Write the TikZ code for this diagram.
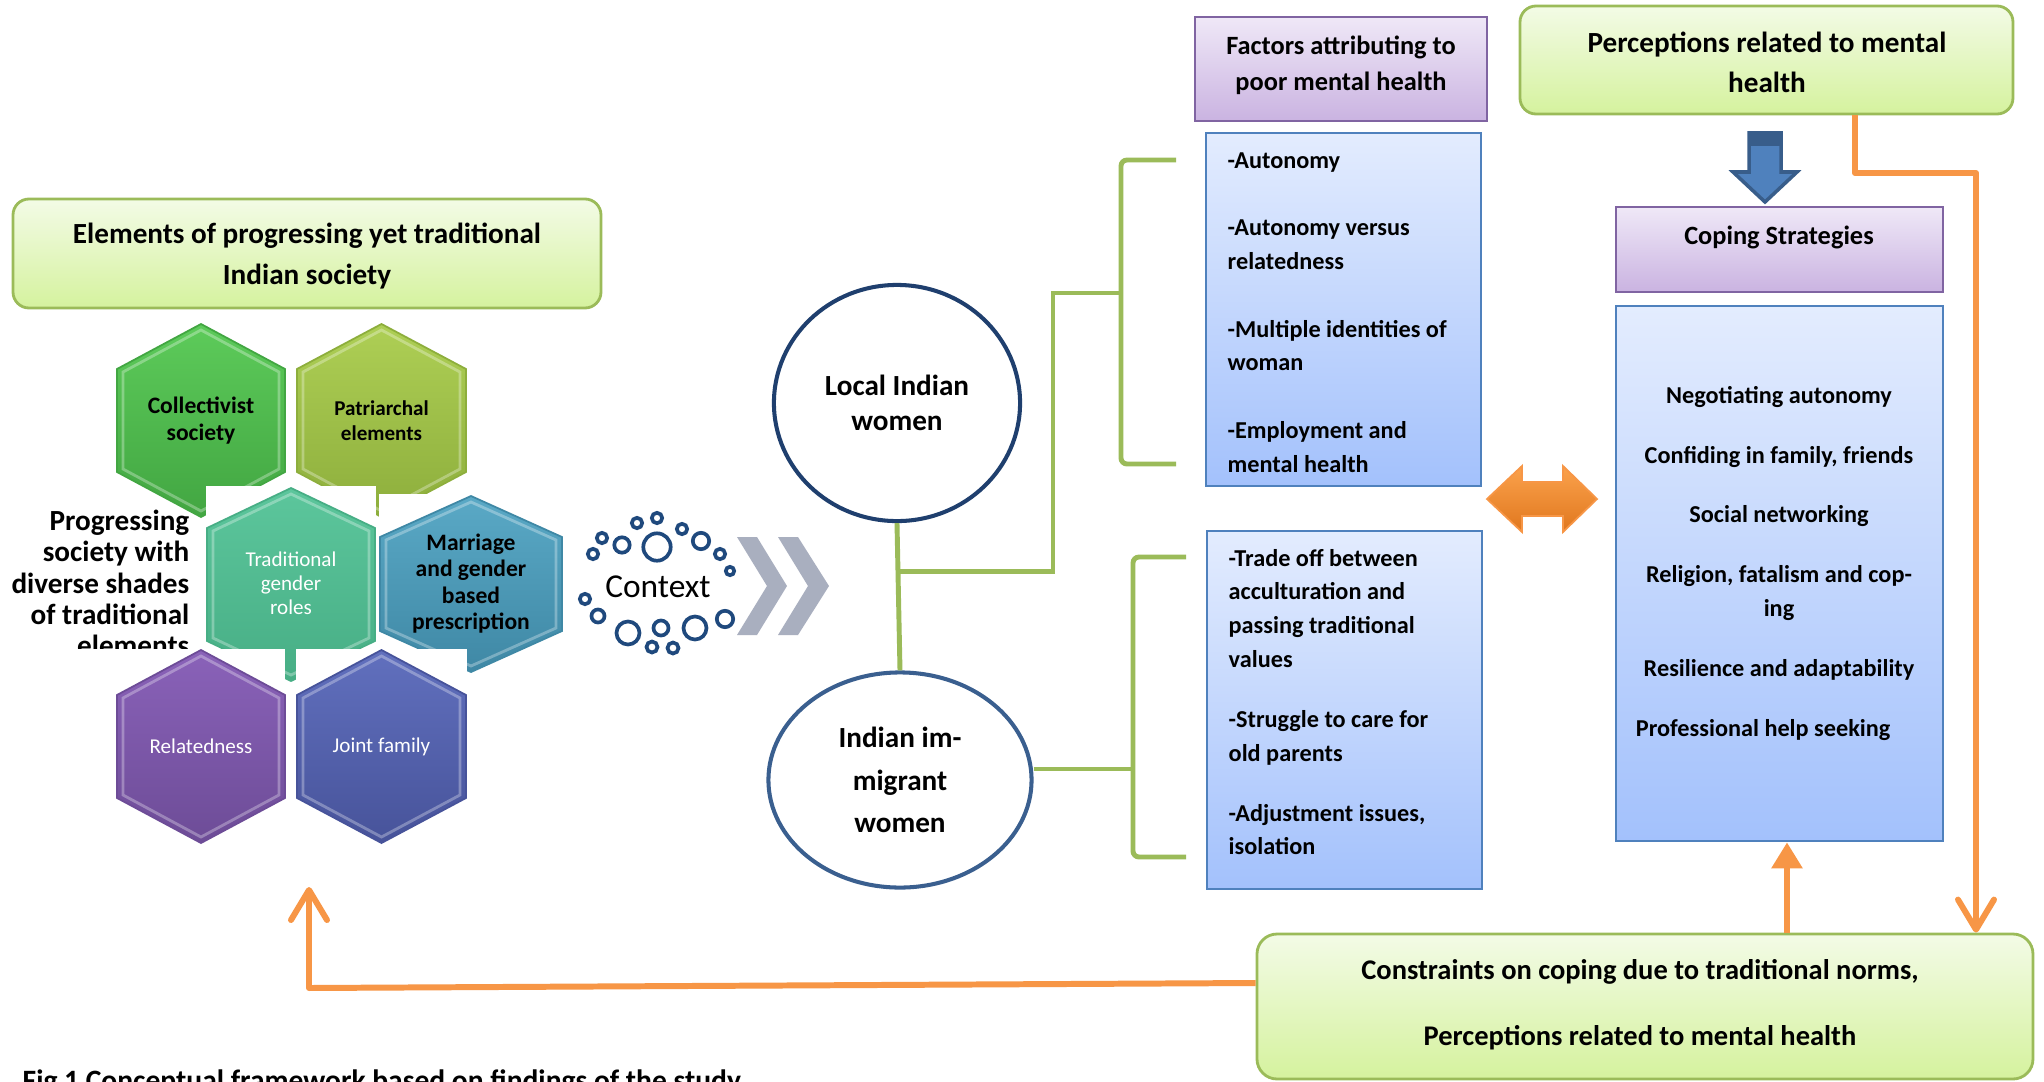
\documentclass[tikz,border=0pt]{standalone}
\usepackage{fontspec}
\setmainfont{Carlito}
\usetikzlibrary{arrows.meta,shapes.geometric,fit,calc}

\definecolor{gfillA}{HTML}{F3FBE6}
\definecolor{gfillB}{HTML}{D5F29E}
\definecolor{gborder}{HTML}{9BBB59}
\definecolor{pfillA}{HTML}{EFE8F7}
\definecolor{pfillB}{HTML}{CAB3E1}
\definecolor{pborder}{HTML}{8064A2}
\definecolor{bfillA}{HTML}{E3ECFE}
\definecolor{bfillB}{HTML}{A3C1FC}
\definecolor{bborder}{HTML}{4F81BD}
\definecolor{orangec}{HTML}{F79646}
\definecolor{orangeA}{HTML}{FBA24C}
\definecolor{orangeB}{HTML}{E0771E}
\definecolor{ringc}{HTML}{1F497D}
\definecolor{ellA}{HTML}{1F3F6E}
\definecolor{ellB}{HTML}{3A5F8F}
\definecolor{chev}{HTML}{A9AFBF}
\definecolor{blueA}{HTML}{4F81BD}
\definecolor{blueAb}{HTML}{385D8A}
\definecolor{hcolA}{HTML}{5DCB5A}\definecolor{hcolB}{HTML}{42A642}
\definecolor{hpatA}{HTML}{AECF55}\definecolor{hpatB}{HTML}{8DAE3C}
\definecolor{htraA}{HTML}{5CC69C}\definecolor{htraB}{HTML}{47AE85}
\definecolor{hmarA}{HTML}{5AA9C6}\definecolor{hmarB}{HTML}{3F88A5}
\definecolor{hrelA}{HTML}{8A62B9}\definecolor{hrelB}{HTML}{6D4C97}
\definecolor{hjoiA}{HTML}{6170BE}\definecolor{hjoiB}{HTML}{47539A}

\newcommand\hexa[7]{%
 \path[top color=#6, bottom color=#7, draw=#7, line width=0.5pt]
  (#1,#2-#4/2) -- (#1+#3/2,#2-#4/2+#5) -- (#1+#3/2,#2+#4/2-#5) -- (#1,#2+#4/2)
  -- (#1-#3/2,#2+#4/2-#5) -- (#1-#3/2,#2-#4/2+#5) -- cycle;
 \draw[white, opacity=0.3, line width=0.8pt]
  (#1,#2-#4/2+6) -- (#1+#3/2-6,#2-#4/2+#5+3) -- (#1+#3/2-6,#2+#4/2-#5-3) -- (#1,#2+#4/2-6)
  -- (#1-#3/2+6,#2+#4/2-#5-3) -- (#1-#3/2+6,#2-#4/2+#5+3) -- cycle;}

\begin{document}
\begin{tikzpicture}[x=0.01cm, y=-0.01cm,
  greenbox/.style={draw=gborder, line width=0.8pt, rounded corners=0.16cm, top color=gfillA, bottom color=gfillB, inner sep=0pt},
  purplebox/.style={draw=pborder, line width=0.8pt, top color=pfillA, bottom color=pfillB, inner sep=0pt},
  bluebox/.style={draw=bborder, line width=0.8pt, top color=bfillA, bottom color=bfillB, inner sep=0pt},
  gline/.style={draw=gborder, line width=1.4pt},
  oline/.style={draw=orangec, line width=1.7pt},
  ring/.style={draw=ringc, line width=1.05pt},
  txt/.style={inner sep=0pt, align=center},
  womanell/.style={ellipse, line width=1.15pt, fill=white, inner sep=0pt, align=center,
     font=\fontsize{8.3}{10}\selectfont\bfseries}
]
\useasboundingbox (0,0) rectangle (2044,1081);
\fill[white] (0,0) rectangle (2044,1081);

% ---------- left block ----------
\node[greenbox, fit={(13,199) (601,308)}] (elem) {};
\node[txt, font=\fontsize{8.3}{11.9}\selectfont\bfseries] (elemtxt) at (307,256)
  {Elements of progressing yet traditional\\Indian society};

% top row hexagons
\hexa{201}{420.5}{168}{193}{45}{hcolA}{hcolB}
\node[txt, font=\fontsize{6.7}{7.7}\selectfont\bfseries] (collect) at (201,420.5) {Collectivist\\society};
\hexa{381.5}{420.5}{169}{193}{45}{hpatA}{hpatB}
\node[txt, font=\fontsize{6}{7.1}\selectfont\bfseries] (patri) at (381.5,420.5) {Patriarchal\\elements};

% side text
\node[txt, align=right, anchor=east, font=\fontsize{8.3}{8.9}\selectfont\bfseries] (progress) at (190,583)
  {Progressing\\society with\\diverse shades\\of traditional\\elements};

% middle row
\fill[white] (206,486) rectangle (376,682);
\hexa{291}{584.5}{168}{193}{40}{htraA}{htraB}
\node[txt, text=white, font=\fontsize{6}{6.8}\selectfont] (tradroles) at (291,583) {Traditional\\gender\\roles};
\fill[white] (379,494) rectangle (564,673);
\hexa{471}{584}{182}{176}{41}{hmarA}{hmarB}
\node[txt, font=\fontsize{6.7}{7.5}\selectfont\bfseries] (marriage) at (471,583.5) {Marriage\\and gender\\based\\prescription};

% bottom row
\fill[white] (55,649) rectangle (285,846);
\hexa{201}{746.5}{168}{193}{45}{hrelA}{hrelB}
\node[txt, text=white, font=\fontsize{6}{7}\selectfont] (related) at (201,746.5) {Relatedness};
\fill[white] (296,649) rectangle (467,846);
\hexa{381.5}{746.5}{169}{193}{45}{hjoiA}{hjoiB}
\node[txt, text=white, font=\fontsize{6}{7}\selectfont] (joint) at (381.5,746.5) {Joint family};

% ---------- context ----------
\foreach \cx/\cy/\r in {593/554/7, 602/538/7, 622/545/9.5, 637/523/7, 657/518/7, 657/547/15.5,
   682/529/7, 701/541/10, 720/554/7, 730/571/6, 585/599/7, 598/616/8.3, 628/633/13.3,
   661/628/9.3, 652/647/7.3, 673/648/7.3, 695/628/13.3, 725/619/10}
  \draw[ring] (\cx,\cy) circle[radius=\r-1.8];
\node[txt, font=\fontsize{9.5}{11}\selectfont] (context) at (658,587) {Context};

\fill[chev] (737,537) -- (757,537) -- (787,586) -- (757,635) -- (737,635) -- (767,586) -- cycle;
\fill[chev] (778,537) -- (798,537) -- (829,586) -- (798,635) -- (778,635) -- (808,586) -- cycle;

% ---------- women ----------
\node[womanell, draw=ellA, minimum width=2.46cm, minimum height=2.36cm] (local) at (897,403)
  {Local Indian\\women};
\node[womanell, draw=ellB, minimum width=2.63cm, minimum height=2.15cm,
      font=\fontsize{8.3}{12}\selectfont\bfseries] (immig) at (900,780)
  {Indian im-\\migrant\\women};

\coordinate (j1) at ($(local.south)!0.33!(immig.north)$);
\coordinate (b1top) at (1176,160);
\coordinate (b1mid) at (1121,293);
\coordinate (b1bot) at (1176,464);
\coordinate (b2top) at (1186,557);
\coordinate (b2mid) at (1133,769);
\coordinate (b2bot) at (1186,857);
\coordinate (bend1) at (1053,293);

\draw[gline] (local.south) -- (immig.north);
\draw[gline] (j1) -| (bend1) -- (b1mid);
\draw[gline] (immig.east |- b2mid) -- (b2mid);
\draw[gline, rounded corners=0.06cm] (b1top) -- (b1top -| b1mid) -- (b1bot -| b1mid) -- (b1bot);
\draw[gline, rounded corners=0.06cm] (b2top) -- (b2top -| b2mid) -- (b2bot -| b2mid) -- (b2bot);

% ---------- factors ----------
\node[purplebox, fit={(1195,17) (1487,121)}] (factors) {};
\node[txt, font=\fontsize{7.5}{10.2}\selectfont\bfseries] (factorstxt) at (1341,65)
  {Factors attributing to\\poor mental health};
\node[bluebox, fit={(1206,133) (1481,486)}] (localbox) {};
\node[inner sep=0pt, align=left, anchor=north west, font=\fontsize{6.9}{9.6}\selectfont\bfseries]
  (localtxt) at (1227,149.5)
  {\rule{0pt}{0.75em}-Autonomy\\[9.6pt]-Autonomy versus\\relatedness\\[9.6pt]-Multiple identities of\\woman\\[9.6pt]-Employment and\\mental health};
\node[bluebox, fit={(1207,531) (1482,889)}] (immigbox) {};
\node[inner sep=0pt, align=left, anchor=north west, font=\fontsize{6.9}{9.55}\selectfont\bfseries]
  (immigtxt) at (1228,547.5)
  {\rule{0pt}{0.75em}-Trade off between\\acculturation and\\passing traditional\\values\\[7.7pt]-Struggle to care for\\old parents\\[7.5pt]-Adjustment issues,\\isolation};

% double arrow
\path[top color=orangeA, bottom color=orangeB, draw=orangec, line width=0.5pt]
  (1487,499) -- (1522,466) -- (1522,482) -- (1563,482) -- (1563,466) -- (1597,499)
  -- (1563,532) -- (1563,516) -- (1522,516) -- (1522,532) -- cycle;

% ---------- right block ----------
\node[greenbox, fit={(1520,6) (2013,114)}] (percep) {};
\node[txt, font=\fontsize{8.3}{11.4}\selectfont\bfseries] (perceptxt) at (1767,62)
  {Perceptions related to mental\\health};

\path[fill=blueA, draw=blueAb, line width=1pt]
  (1749,133) -- (1781,133) -- (1781,172) -- (1797,172) -- (1765,202) -- (1733,172) -- (1749,172) -- cycle;
\fill[blueAb] (1749,133) rectangle (1781,146);

\node[purplebox, fit={(1616,207) (1943,292)}] (coping) {};
\node[txt, font=\fontsize{7.5}{9}\selectfont\bfseries] (copingtxt) at (1779,237) {Coping Strategies};
\node[bluebox, fit={(1616,306) (1943,841)}] (copebox) {};
\node[inner sep=0pt, align=center, anchor=north, font=\fontsize{6.9}{9.6}\selectfont\bfseries]
  (copetxt) at (1779,384.5)
  {\rule{0pt}{0.75em}Negotiating autonomy\\[7.4pt]Confiding in family, friends\\[7.4pt]Social networking\\[7.4pt]Religion, fatalism and cop-\\ing\\[7.4pt]Resilience and adaptability\\[7.4pt]Professional help seeking\hspace*{9pt}};

\node[greenbox, rounded corners=0.2cm, fit={(1257,934) (2033,1079)}] (constr) {};
\node[txt, font=\fontsize{8.1}{18.8}\selectfont\bfseries] (constrtxt) at (1640,1005)
  {Constraints on coping due to traditional norms,\\Perceptions related to mental health};

% ---------- orange connectors ----------
\coordinate (o1) at (1855,0);
\coordinate (o2) at (1976,173);
\coordinate (oup) at (1787,0);
\coordinate (o3r) at (0,983);
\coordinate (o3) at (309,988);
\coordinate (o4) at (309,887);
\draw[oline, line join=round, -{Straight Barb[length=0.3cm,width=0.36cm,round]}]
  (percep.south -| o1) |- (o2) -- (constr.north -| o2);
\draw[oline, -{Triangle[length=0.26cm,width=0.3cm]}] (constr.north -| oup) -- (copebox.south -| oup);
\draw[oline, line join=round, -{Straight Barb[length=0.3cm,width=0.36cm,round]}]
  (constr.west |- o3r) -- (o3) -- (o4);

% caption (cut by the page edge, as in the reference)
\node[anchor=base west, inner sep=0pt, font=\fontsize{8.4}{10}\selectfont\bfseries] (caption) at (22,1090)
  {Fig 1 Conceptual framework based on findings of the study};
\end{tikzpicture}
\end{document}
